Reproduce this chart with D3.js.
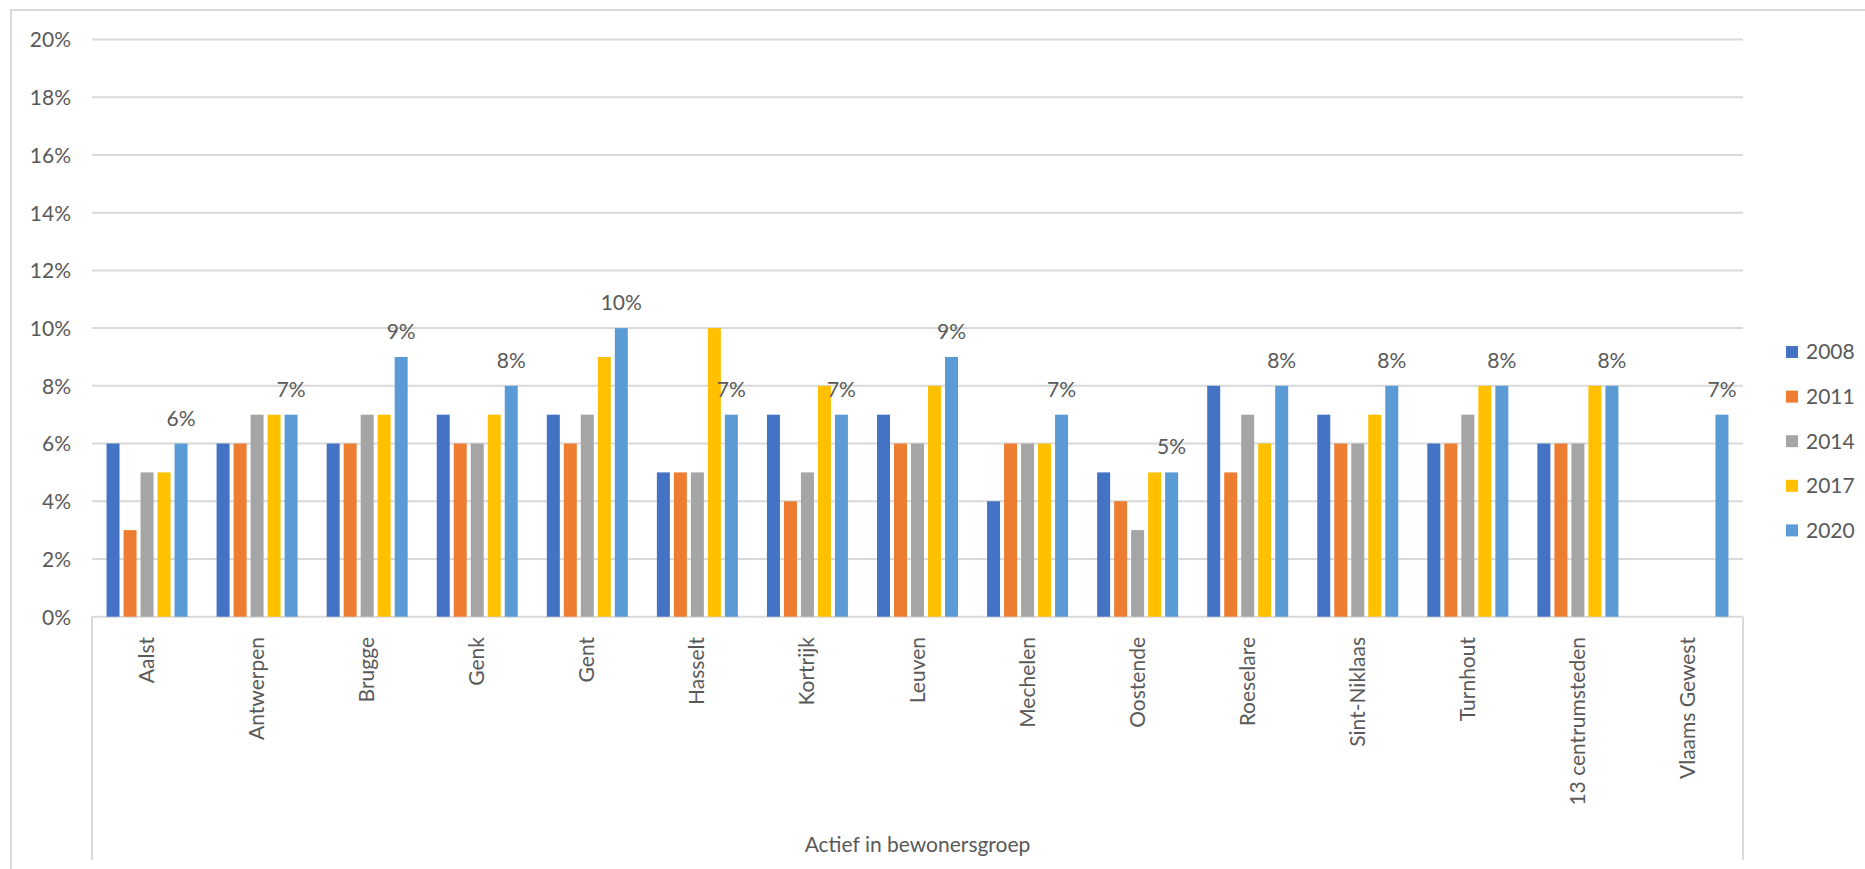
<!DOCTYPE html>
<html>
<head>
<meta charset="utf-8">
<script src="https://cdn.jsdelivr.net/npm/d3@7"></script>
<style>
  html, body { margin: 0; padding: 0; background: #fff; }
  svg { display: block; font-family: Lato, "Noto Sans", sans-serif; }
</style>
</head>
<body>
<svg id="chart" width="1865" height="869"></svg>
<script>
const categories = ["Aalst", "Antwerpen", "Brugge", "Genk", "Gent", "Hasselt", "Kortrijk", "Leuven", "Mechelen", "Oostende", "Roeselare", "Sint-Niklaas", "Turnhout", "13 centrumsteden", "Vlaams Gewest"];
const years = ["2008", "2011", "2014", "2017", "2020"];
const s2008 = [6, 6, 6, 7, 7, 5, 7, 7, 4, 5, 8, 7, 6, 6, null];
const s2011 = [3, 6, 6, 6, 6, 5, 4, 6, 6, 4, 5, 6, 6, 6, null];
const s2014 = [5, 7, 7, 6, 7, 5, 5, 6, 6, 3, 7, 6, 7, 6, null];
const s2017 = [5, 7, 7, 7, 9, 10, 8, 8, 6, 5, 6, 7, 8, 8, null];
const s2020 = [6, 7, 9, 8, 10, 7, 7, 9, 7, 5, 8, 8, 8, 8, 7];
const yTicks = [0, 2, 4, 6, 8, 10, 12, 14, 16, 18, 20];
const groupTitle = "Actief in bewonersgroep";

const seriesValues = [s2008, s2011, s2014, s2017, s2020];
const colors = ["#4472C4", "#ED7D31", "#A5A5A5", "#FFC000", "#5B9BD5"];
const textColor = "#595959";
const gridColor = "#D9D9D9";
const fontSize = 21;

const svg = d3.select("#chart");
const plotL = 92, plotR = 1743, plotT = 39.5, plotB = 616.7;

// outer chart border (top & left visible)
svg.append("path")
  .attr("d", `M11,869 L11,10 L1865,10`)
  .attr("fill", "none").attr("stroke", gridColor).attr("stroke-width", 2);

const y = d3.scaleLinear().domain([0, 20]).range([plotB, plotT]);
const x0 = d3.scaleBand().domain(categories).range([plotL, plotR]).padding(0);
const gw = x0.bandwidth();
const inner = 81;
const x1 = d3.scaleBand().domain(years).range([(gw - inner) / 2, (gw + inner) / 2]).paddingInner(4 / 17).paddingOuter(0);

// gridlines
svg.append("g").selectAll("line").data(yTicks).join("line")
  .attr("x1", plotL).attr("x2", plotR)
  .attr("y1", d => y(d)).attr("y2", d => y(d))
  .attr("stroke", gridColor).attr("stroke-width", 2);

// y axis labels via d3 axis
const yAxis = d3.axisLeft(y).tickValues(yTicks).tickFormat(d => d + "%").tickSize(0).tickPadding(0);
const yg = svg.append("g").attr("transform", `translate(71,0)`).call(yAxis);
yg.select(".domain").remove();
yg.selectAll("text").attr("fill", textColor).attr("font-size", fontSize)
  .attr("font-family", "Lato, 'Noto Sans', sans-serif").attr("dy", "0.35em");

// category box lines
svg.append("g").selectAll("line").data([plotL, plotR]).join("line")
  .attr("x1", d => d).attr("x2", d => d).attr("y1", plotB).attr("y2", 860)
  .attr("stroke", gridColor).attr("stroke-width", 2);

// bars
const groups = svg.append("g").selectAll("g").data(categories).join("g")
  .attr("transform", c => `translate(${x0(c)},0)`);
groups.each(function(c, ci) {
  const g = d3.select(this);
  years.forEach((yr, si) => {
    const v = seriesValues[si][ci];
    if (v == null) return;
    g.append("rect")
      .attr("x", x1(yr)).attr("width", x1.bandwidth())
      .attr("y", y(v)).attr("height", y(0) - y(v))
      .attr("fill", colors[si]);
  });
  // data label on 2020
  const v = s2020[ci];
  g.append("text")
    .attr("x", x1("2020") + x1.bandwidth() / 2)
    .attr("y", y(v) - 18)
    .attr("text-anchor", "middle")
    .attr("fill", textColor).attr("font-size", fontSize)
    .text(v + "%");
});

// category labels (rotated)
svg.append("g").selectAll("text").data(categories).join("text")
  .attr("transform", c => `translate(${x0(c) + gw / 2 + 7},637) rotate(-90)`)
  .attr("text-anchor", "end")
  .attr("fill", textColor).attr("font-size", fontSize)
  .text(c => c);

// group title
svg.append("text")
  .attr("x", (plotL + plotR) / 2).attr("y", 852)
  .attr("text-anchor", "middle")
  .attr("fill", textColor).attr("font-size", fontSize)
  .text(groupTitle);

// legend
const leg = svg.append("g").selectAll("g").data(years).join("g")
  .attr("transform", (d, i) => `translate(1786,${352 + i * 44.6})`);
leg.append("rect").attr("x", 0).attr("y", -6).attr("width", 12).attr("height", 12)
  .attr("fill", (d, i) => colors[i]);
leg.append("text").attr("x", 20).attr("y", 0).attr("dy", "0.35em")
  .attr("fill", textColor).attr("font-size", fontSize).text(d => d);
</script>
</body>
</html>
